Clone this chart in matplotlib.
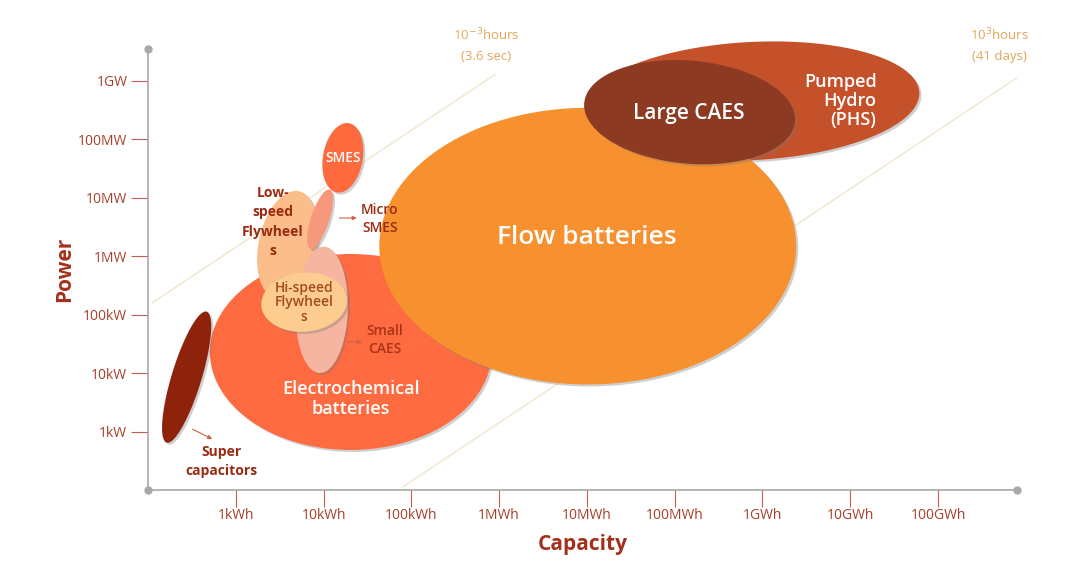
import matplotlib.pyplot as plt
import matplotlib.patheffects as pe
import numpy as np

plt.rcParams['font.family'] = ['Open Sans', 'DejaVu Sans']

# axis ticks (log10 of Wh and W)
cap_ticks = [3, 4, 5, 6, 7, 8, 9, 10, 11]
cap_labels = ['1kWh', '10kWh', '100kWh', '1MWh', '10MWh', '100MWh', '1GWh', '10GWh', '100GWh']
pow_ticks = [3, 4, 5, 6, 7, 8, 9]
pow_labels = ['1kW', '10kW', '100kW', '1MW', '10MW', '100MW', '1GW']

# technology regions: centre (log capacity, log power), extent in decades, tilt
techs = ['Pumped Hydro', 'Electrochemical', 'Flow', 'Large CAES', 'Low-speed FW',
         'Micro SMES', 'Small CAES', 'Hi-speed FW', 'SMES', 'Supercap']
cap_c = [8.88, 4.31, 7.01, 8.17, 3.59, 3.96, 3.98, 3.78, 4.22, 2.44]
pow_c = [8.65, 4.36, 6.17, 8.46, 6.19, 6.63, 5.08, 5.21, 7.68, 3.93]
cap_w = [3.82, 3.21, 4.75, 2.41, 1.25, 0.71, 1.44, 0.98, 0.80, 1.56]
pow_h = [2.02, 3.35, 4.73, 1.76, 0.99, 0.31, 0.89, 1.01, 0.68, 0.51]
tilt = [3, 0, 0, -5, 78, 72, 88, 5, 80, 73]
colors = ['#C5512A', '#FE6B40', '#F7902E', '#8C3A22', '#FBBE8A',
          '#F7987A', '#F5B5A0', '#FCCD8E', '#FC6A3E', '#8E220B']

# duration guide lines: log capacity - log power, as drawn
dur_offset = [-3.15, 2.85]

xmin, xmax, ymin, ymax = 2, 11.9, 2, 9.54

fig = plt.figure(figsize=(10.68, 5.8), dpi=100)
ax = fig.add_axes([148/1068, 90/580, 869/1068, 441/580])
ax.set_xlim(xmin, xmax)
ax.set_ylim(ymin, ymax)

# pixels per decade, so tilted ellipses look right on screen
sx = 869 / (xmax - xmin)
sy = 441 / (ymax - ymin)

# guide lines
for off in dur_offset:
    xs = np.array([max(xmin + 0.05, ymin + 0.05 + off), 9.1 + off])
    ax.plot(xs, xs - off, color='#F1E6CF', lw=1, zorder=0.5)

t = np.linspace(0, 2*np.pi, 200)
shadow = [pe.SimplePatchShadow(offset=(1.5, -1.5), shadow_rgbFace='#777777', alpha=0.35), pe.Normal()]
for i in range(len(techs)):
    a = cap_w[i] * sx / 2
    b = pow_h[i] * sy / 2
    th = np.deg2rad(tilt[i])
    px = a*np.cos(t)*np.cos(th) - b*np.sin(t)*np.sin(th)
    py = a*np.cos(t)*np.sin(th) + b*np.sin(t)*np.cos(th)
    ax.fill(cap_c[i] + px/sx, pow_c[i] + py/sy, color=colors[i], lw=0,
            zorder=i + 1, path_effects=shadow, clip_on=False)

white = dict(color='white', ha='center', va='center', zorder=20)
ax.text(7.00, 6.31, 'Flow batteries', fontsize=19, fontweight='semibold', **white)
ax.text(4.31, 3.56, 'Electrochemical\nbatteries', fontsize=13, fontweight='semibold',
        linespacing=1.15, **white)
ax.text(8.16, 8.44, 'Large CAES', fontsize=15, fontweight='semibold', **white)
ax.text(10.30, 8.65, 'Pumped\nHydro\n(PHS)', fontsize=13, fontweight='semibold', color='white',
        ha='right', va='center', linespacing=1.1, zorder=20)
ax.text(4.22, 7.68, 'SMES', fontsize=10, fontweight='semibold', **white)

dark = '#9B2A12'
ax.text(3.42, 6.58, 'Low-\nspeed\nFlywheel\ns', fontsize=10, fontweight='bold', color=dark,
        ha='center', va='center', linespacing=1.5, zorder=20)
ax.text(3.78, 5.21, 'Hi-speed\nFlywheel\ns', fontsize=10, fontweight='semibold', color='#A24A24',
        ha='center', va='center', linespacing=1.05, zorder=20)
ax.text(4.64, 6.63, 'Micro\nSMES', fontsize=10, fontweight='semibold', color=dark,
        ha='center', va='center', linespacing=1.35, zorder=20)
ax.text(4.70, 4.56, 'Small\nCAES', fontsize=10, fontweight='semibold', color='#A83218',
        ha='center', va='center', linespacing=1.35, zorder=20)
ax.text(2.84, 2.48, 'Super\ncapacitors', fontsize=10, fontweight='bold', color=dark,
        ha='center', va='center', linespacing=1.45, zorder=20)

arrow = dict(arrowstyle='-|>', color='#D0604A', lw=0.8, mutation_scale=6)
ax.annotate('', xy=(4.41, 6.65), xytext=(4.15, 6.65), arrowprops=arrow, zorder=20)
ax.annotate('', xy=(4.47, 4.53), xytext=(4.24, 4.53), arrowprops=arrow, zorder=20)
ax.annotate('', xy=(2.76, 2.85), xytext=(2.48, 3.06), arrowprops=arrow, zorder=20)

gold = '#E2A65A'
ax.text(5.85, 9.61, '10$^{-3}$hours\n(3.6 sec)', fontsize=9.5, color=gold, ha='center',
        va='center', linespacing=1.6, clip_on=False)
ax.text(11.70, 9.61, '10$^{3}$hours\n(41 days)', fontsize=9.5, color=gold, ha='center',
        va='center', linespacing=1.6, clip_on=False)

# axes
for s in ['top', 'right']:
    ax.spines[s].set_visible(False)
for s in ['left', 'bottom']:
    ax.spines[s].set_color('#A8A8A8')
    ax.spines[s].set_linewidth(1.2)
ax.plot([xmin, xmin, xmax], [ymax, ymin, ymin], 'o', color='#A8A8A8', ms=5,
        clip_on=False, zorder=30)

tick_col = '#A5402A'
ax.set_xticks(cap_ticks)
ax.set_xticklabels(cap_labels)
ax.set_yticks(pow_ticks)
ax.set_yticklabels(pow_labels)
ax.tick_params(colors='#C0604E', labelcolor=tick_col, labelsize=10, length=12, width=0.8)
ax.tick_params(axis='x', pad=1)
ax.tick_params(axis='y', pad=3)

ax.set_xlabel('Capacity', fontsize=15, fontweight='bold', color='#A3301A', labelpad=8)
ax.set_ylabel('Power', fontsize=15, fontweight='bold', color='#A3301A', labelpad=2)

fig.savefig('out.png', dpi=100)
